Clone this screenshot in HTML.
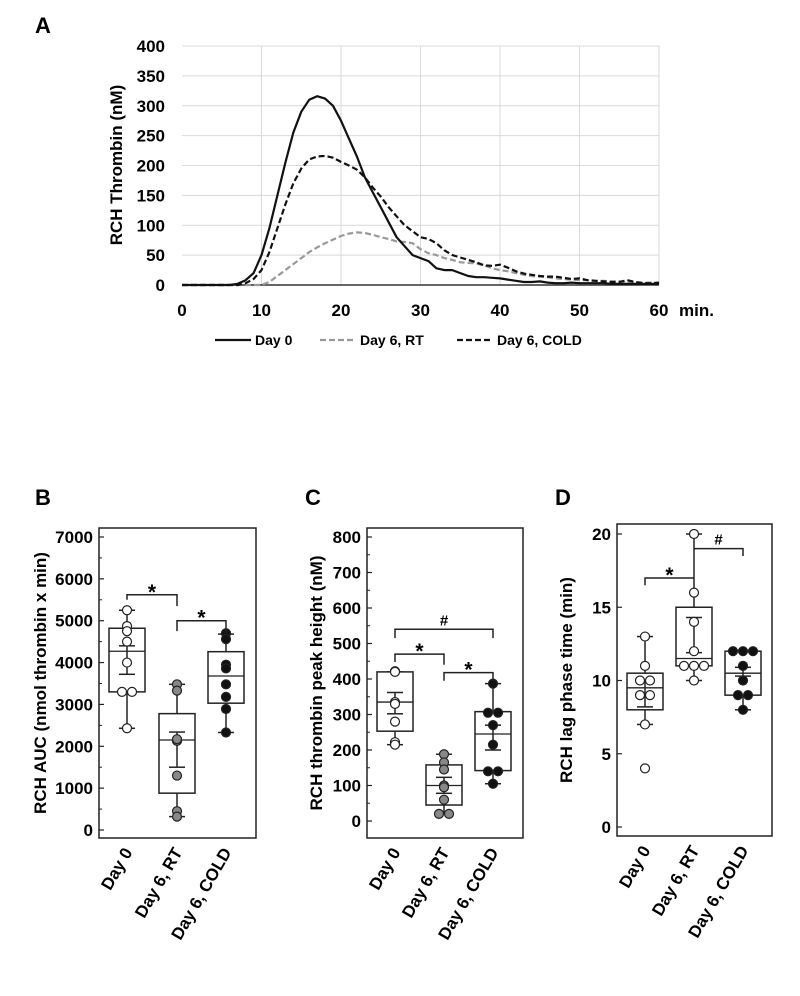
<!DOCTYPE html>
<html><head><meta charset="utf-8"><style>
body{margin:0;background:#fff;font-family:"Liberation Sans",Arial,sans-serif}
svg text{font-family:"Liberation Sans",Arial,sans-serif;font-weight:bold;fill:#000}
</style></head><body>
<svg id="fig" width="800" height="991" xmlns="http://www.w3.org/2000/svg"></svg>
<script>
// Panel A data
const timesA=[0,1,2,3,4,5,6,7,8,9,10,11,12,13,14,15,16,17,18,19,20,21,22,23,24,25,26,27,28,29,30,31,32,33,34,35,36,37,38,39,40,41,42,43,44,45,46,47,48,49,50,51,52,53,54,55,56,57,58,59,60];
const day0A=[0,0,0,0,0,0,0,2,8,20,50,95,150,205,255,290,310,316,312,300,275,245,215,180,155,130,105,80,65,50,45,40,28,25,25,20,15,13,13,12,11,9,7,5,5,6,4,3,3,4,3,3,3,3,2,2,2,2,2,2,2];
const rtA=[0,0,0,0,0,0,0,0,0,0,0,5,15,25,35,45,55,63,70,76,82,86,88,87,84,80,77,73,72,70,60,53,50,45,42,38,37,36,33,28,25,23,20,17,15,14,13,11,10,9,8,8,7,7,6,6,5,5,4,4,3];
const coldA=[0,0,0,0,0,0,0,0,3,10,25,55,95,135,170,195,210,215,216,213,206,200,193,180,163,148,130,115,100,90,80,77,70,58,50,46,42,38,33,32,34,29,23,19,17,15,14,14,12,10,11,8,7,6,5,5,8,5,3,3,4];
const xTicksA=[0,10,20,30,40,50,60];
const yTicksA=[0,50,100,150,200,250,300,350,400];
// Box panels data
const cats=["Day 0","Day 6, RT","Day 6, COLD"];
const aucPts=[[5250,4870,4750,4500,4000,3300,3300,2430],[3480,3330,2150,2130,2170,1300,450,320],[4700,4560,3950,3860,3480,3180,2890,2330]];
const aucBox=[[2430,3300,4270,4820,5250],[320,880,2150,2780,3480],[2330,3030,3680,4260,4680]];
const aucSE=[[3720,4400],[1500,2340],null];
const peakPts=[[422,420,335,330,280,222,215],[188,165,145,100,95,60,20,20],[387,305,305,270,215,140,140,105]];
const peakBox=[[215,253,335,420,420],[20,45,100,158,188],[105,142,245,308,387]];
const peakSE=[[302,362],[78,123],[200,270]];
const lagPts=[[13,11,10,10,9,9,7,4],[20,16,14,12,11,11,11,10],[12,12,12,11,10,9,9,8]];
const lagBox=[[7,8,9.5,10.5,13],[10,11,11.5,15,20],[8,9,10.5,12,12]];
const lagSE=[[8.2,10],[11.9,14.3],[10.3,10.9]];

const S=document.getElementById('fig');const NS="http://www.w3.org/2000/svg";
function el(tag,attrs,parent){const e=document.createElementNS(NS,tag);for(const k in attrs)e.setAttribute(k,attrs[k]);(parent||S).appendChild(e);return e;}
function txt(x,y,s,size,anchor,parent,extra){const t=el('text',Object.assign({x:x,y:y,'font-size':size,'text-anchor':anchor||'middle'},extra||{}),parent);t.textContent=s;return t;}

// ---- Panel A
const gA=el('g',{});


const pl=182,pr=659,pt=46,pb=285;
const xA=t=>pl+(t-0)/60*(pr-pl);
const yA=v=>pb-v/400*(pb-pt);
let lbA=txt(35,33,"A",22,'start',gA);

yTicksA.forEach(v=>{if(v>0){const g=el('line',{x1:pl,x2:pr,y1:yA(v),y2:yA(v),stroke:'#d9d9d9','stroke-width':1},gA);}
 const t=txt(165,yA(v)+6,String(v),17,'end',gA);});
xTicksA.forEach(v=>{if(v>0){const g=el('line',{x1:xA(v),x2:xA(v),y1:pt,y2:pb,stroke:'#d9d9d9','stroke-width':1},gA);}
 const t=txt(xA(v),316,String(v),17,'middle',gA);});
let mn=txt(679,316,"min.",17,'start',gA);
let ax=el('line',{x1:pl,x2:pr,y1:pb,y2:pb,stroke:'#333','stroke-width':1.5},gA);
let yt=txt(0,0,"RCH Thrombin (nM)",17,'middle',gA,{transform:'translate(122,165) rotate(-90)'});
function curve(vals,color,dash,name){const d=vals.map((v,i)=>(i?'L':'M')+xA(timesA[i]).toFixed(1)+','+yA(v).toFixed(1)).join('');
 const p=el('path',{d:d,fill:'none',stroke:color,'stroke-width':2.2,'stroke-dasharray':dash,'stroke-linejoin':'round'},gA);}
curve(rtA,'#999','6,3','series-day6-rt');
curve(coldA,'#111','6,3','series-day6-cold');
curve(day0A,'#111','none','series-day0');
const legs=[[215,'#111','none','Day 0'],[320,'#999','6,3','Day 6, RT'],[457,'#111','6,3','Day 6, COLD']];
legs.forEach(l=>{const g=el('g',{},gA);
 el('line',{x1:l[0],x2:l[0]+36,y1:340,y2:340,stroke:l[1],'stroke-width':2.2,'stroke-dasharray':l[2]},g);txt(l[0]+40,345,l[3],14,'start',g);});

// ---- Box panels
function boxPanel(o){
 const g=el('g',{});
 
 
 const lb=txt(o.lx,505,o.letter,22,'start',g);
 const y=v=>o.y0-(v/o.max)*(o.y0-o.yTop);
 const fr=el('rect',{x:o.fl,y:o.ft,width:o.fr-o.fl,height:o.fb-o.ft,fill:'none',stroke:'#222','stroke-width':1.5},g);
 o.ticks.forEach(v=>{const l=el('line',{x1:o.fl,x2:o.fl+5,y1:y(v),y2:y(v),stroke:'#222','stroke-width':1.2},g);
  const t=txt(o.fl-6,y(v)+6,String(v),17,'end',g);});
 (o.minor||[]).forEach(v=>{el('line',{x1:o.fl,x2:o.fl+3,y1:y(v),y2:y(v),stroke:'#222','stroke-width':1},g);});
 const at=txt(0,0,o.title,17,'middle',g,{transform:`translate(${o.tx},${(o.ft+o.fb)/2}) rotate(-90)`});
 const fills=['#fff','#888','#111'];
 cats.forEach((c,i)=>{const cx=o.cx[i];const b=o.box[i];const bw=18;
  const bg=el('g',{},g);
  el('line',{x1:cx,x2:cx,y1:y(b[0]),y2:y(b[4]),stroke:'#222','stroke-width':1.5},bg);
  el('line',{x1:cx-8,x2:cx+8,y1:y(b[0]),y2:y(b[0]),stroke:'#222','stroke-width':1.5},bg);
  el('line',{x1:cx-8,x2:cx+8,y1:y(b[4]),y2:y(b[4]),stroke:'#222','stroke-width':1.5},bg);
  el('rect',{x:cx-bw,y:y(b[3]),width:2*bw,height:y(b[1])-y(b[3]),fill:'#fff',stroke:'#222','stroke-width':1.5},bg);
  el('line',{x1:cx-bw,x2:cx+bw,y1:y(b[2]),y2:y(b[2]),stroke:'#222','stroke-width':1.3},bg);
  const se=o.se[i];
  if(se){el('line',{x1:cx,x2:cx,y1:y(se[0]),y2:y(se[1]),stroke:'#222','stroke-width':1.5},bg);
   el('line',{x1:cx-8,x2:cx+8,y1:y(se[0]),y2:y(se[0]),stroke:'#222','stroke-width':1.5},bg);
   el('line',{x1:cx-8,x2:cx+8,y1:y(se[1]),y2:y(se[1]),stroke:'#222','stroke-width':1.5},bg);}
  const pts=o.pts[i];const seen={};
  pts.forEach(v=>{seen[v]=(seen[v]||0)+1;});
  const cnt={};
  pts.forEach(v=>{const n=seen[v];cnt[v]=(cnt[v]||0)+1;const off=n>1?(cnt[v]-(n+1)/2)*10:0;
   const c=el('circle',{cx:cx+off,cy:y(v),r:4.5,fill:o.fill?o.fill[i]:fills[i],stroke:'#222','stroke-width':1.2},bg);
   });
  const xl=txt(0,0,c,17,'end',g,{transform:`translate(${cx+6},${o.fb+14}) rotate(-60)`});
 });
 o.brackets.forEach(br=>{const bg=el('g',{},g);
  const x1=o.cx[br[0]],x2=o.cx[br[1]];
  el('path',{d:`M${x1},${y(br[3])}V${y(br[2])}H${x2}V${y(br[4])}`,fill:'none',stroke:'#222','stroke-width':1.5},bg);
  txt((x1+x2)/2,y(br[2])-(br[5]=='*'?-4:4),br[5],br[5]=='*'?21:15,'middle',bg);});
}
boxPanel({name:'panel-b-auc',letter:'B',lx:35,fl:99,fr:256,ft:528,fb:838,y0:830,yTop:537,max:7000,ticks:[0,1000,2000,3000,4000,5000,6000,7000],minor:[500,1500,2500,3500,4500,5500,6500],
 tx:46,title:'RCH AUC (nmol thrombin x min)',cx:[127,177,226],pts:aucPts,box:aucBox,se:aucSE,
 brackets:[[0,1,5620,5500,5350,'*'],[1,2,5000,4750,4700,'*']]});
boxPanel({name:'panel-c-peak-height',letter:'C',lx:305,fl:367,fr:523,ft:528,fb:838,y0:821,yTop:537,max:800,ticks:[0,100,200,300,400,500,600,700,800],minor:[50,150,250,350,450,550,650,750],
 tx:322,title:'RCH thrombin peak height (nM)',cx:[395,444,493],pts:peakPts,box:peakBox,se:peakSE,
 brackets:[[0,2,540,515,515,'#'],[0,1,470,448,440,'*'],[1,2,418,395,395,'*']]});
boxPanel({name:'panel-d-lag-time',letter:'D',lx:555,fl:617,fr:772,ft:524,fb:836,y0:827,yTop:534,max:20,ticks:[0,5,10,15,20],
 tx:572,title:'RCH lag phase time (min)',cx:[645,694,743],pts:lagPts,box:lagBox,se:lagSE,fill:['#fff','#fff','#111'],
 brackets:[[0,1,17,16.5,17,'*'],[1,2,19,19,18.5,'#']]});
</script>
</body></html>
